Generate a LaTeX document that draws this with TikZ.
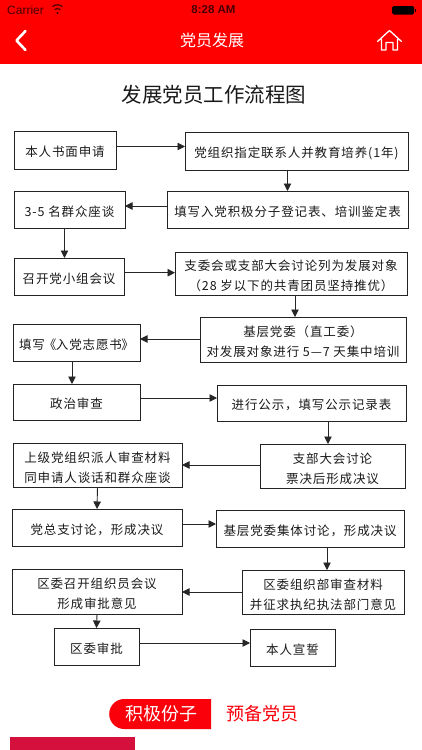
\documentclass[tikz,border=0pt]{standalone}
\usepackage{fontspec}
\setsansfont{Liberation Sans}
\newfontfamily\cjk[LetterSpace=7]{Noto Sans CJK SC}
\newfontfamily\cjkui{Noto Sans CJK SC}
\usetikzlibrary{arrows.meta, positioning, shapes.misc}
\definecolor{cHead}{RGB}{255,0,0}
\definecolor{cPill}{RGB}{250,0,10}
\definecolor{cBar}{RGB}{213,16,60}
\definecolor{cInk}{RGB}{35,35,35}
\definecolor{cStatus}{RGB}{70,0,0}
\tikzset{
  flowbox/.style={rectangle, draw=cInk, line width=1pt, inner sep=0pt, outer sep=0pt,
                  align=center, text=black!90, font=\cjk\fontsize{12.5}{20}\selectfont,
                  execute at begin node={\rule{0pt}{14.5pt}}},
  twolines/.style={flowbox, execute at begin node={\rule{0pt}{36pt}}},
  flowarrow/.style={-{Triangle[length=7.5pt,width=7.5pt]}, line width=0.9pt, color=black!85},
  statustext/.style={inner sep=0pt, text=cStatus, font=\sffamily\fontsize{12}{12}\selectfont},
  headicon/.style={white, line cap=round, line join=round}
}

\begin{document}
\begin{tikzpicture}[x=1pt, y=1pt]
  \useasboundingbox (0,0) rectangle (422,-750);

  % header
  \fill[cHead] (0,0) rectangle (422,-64);
  \node[statustext, anchor=west] (carrier) at (7,-10) {Carrier};
  \node[statustext, font=\sffamily\bfseries\fontsize{11.5}{12}\selectfont] (clock) at (213.5,-10) {8:28 AM};
  \draw[cStatus, line width=1.2pt] (52.5,-6.6) arc (130:50:7.8);
  \draw[cStatus, line width=1.2pt] (54.6,-9.6) arc (130:50:4.5);
  \fill[cStatus] (57.5,-13) circle (1.2);
  \fill[black, rounded corners=1.5pt] (392,-6) rectangle (414,-14.5);
  \fill[black] (414.5,-8.5) rectangle (415.5,-12);
  \draw[headicon, line width=2.6pt] (25.5,-31) -- (16.5,-40.5) -- (25.5,-50);
  \node[text=white, inner sep=0pt, font=\cjkui\fontsize{16}{16}\selectfont] (title) at (212,-40.5) {党员发展};
  \draw[headicon, line width=1.3pt] (377.5,-41.5) -- (389.5,-30.5) -- (401.5,-41.5)
    (381.5,-39.5) -- (381.5,-50) -- (386,-50) -- (386,-42.5) -- (393,-42.5) -- (393,-50) -- (397.5,-50) -- (397.5,-39.5);

  \node[inner sep=0pt, text=black!90, font=\cjkui\fontsize{20.5}{21}\selectfont] (chart) at (214,-95) {发展党员工作流程图};

  % left and right columns, row by row
  \node[flowbox, minimum width=102pt, minimum height=38pt, anchor=north west] (apply) at (14,-131) {本人书面申请};
  \node[flowbox, minimum width=223pt, minimum height=38pt, below right=1pt and 69pt of apply.north east] (train) {党组织指定联系人并教育培养(1年)};

  \node[flowbox, minimum width=111pt, minimum height=37pt, below right=22pt and 0pt of apply.south west] (talk) {3-5 名群众座谈};
  \node[flowbox, minimum width=241pt, minimum height=37pt, below left=21pt and 0pt of train.south east] (form) {填写入党积极分子登记表、培训鉴定表};

  \node[flowbox, minimum width=110pt, minimum height=37pt, below right=30pt and 0pt of talk.south west] (group) {召开党小组会议};
  \node[twolines, minimum width=232pt, minimum height=43pt, below left=24pt and 1pt of form.south east] (branch) {支委会或支部大会讨论列为发展对象\\（28 岁以下的共青团员坚持推优）};

  \node[flowbox, minimum width=127pt, minimum height=37pt, below right=29pt and -1pt of group.south west] (book) {填写\hspace{-1pt}《\hspace{-0.5pt}入党志愿书\hspace{-0.5pt}》};
  \node[twolines, minimum width=206pt, minimum height=45pt, below left=22pt and 1pt of branch.south east] (focus) {基层党委（直工委）\\对发展对象进行 5—7 天集中培训};

  \node[flowbox, minimum width=127pt, minimum height=36pt, below right=23pt and 0pt of book.south west] (review) {政治审查};
  \node[flowbox, minimum width=189pt, minimum height=36pt, below left=23pt and 0pt of focus.south east] (notice) {进行公示，填写公示记录表};

  \node[twolines, minimum width=169pt, minimum height=44pt, below right=23pt and 0pt of review.south west] (visit) {上级党组织派人审查材料\\同申请人谈话和群众座谈};
  \node[twolines, minimum width=145pt, minimum height=44pt, below left=23pt and 1pt of notice.south east] (vote) {支部大会讨论\\票决后形成决议};

  \node[flowbox, minimum width=170pt, minimum height=37pt, below right=22pt and -1pt of visit.south west] (general) {党总支讨论，形成决议};
  \node[flowbox, minimum width=188pt, minimum height=37pt, below left=22pt and 1pt of vote.south east] (collect) {基层党委集体讨论，形成决议};

  \node[twolines, minimum width=170pt, minimum height=45pt, below right=23pt and 0pt of general.south west] (meeting) {区委召开组织员会议\\形成审批意见};
  \node[twolines, minimum width=162pt, minimum height=44pt, below left=23pt and 0pt of collect.south east] (check) {区委组织部审查材料\\并征求执纪执法部门意见};

  \node[flowbox, minimum width=85pt, minimum height=37pt, below right=14pt and 42pt of meeting.south west] (approve) {区委审批};
  \node[flowbox, minimum width=85pt, minimum height=37pt, below right=1pt and 111pt of approve.north east] (oath) {本人宣誓};

  \draw[flowarrow] ([yshift=3.5pt]apply.east) -- ([yshift=4.5pt]train.west);
  \draw[flowarrow] (form.north |- train.south) -- (form.north);
  \draw[flowarrow] ([yshift=3.5pt]form.west) -- ([yshift=3.5pt]form.west -| talk.east);
  \draw[flowarrow] ([xshift=-5pt]talk.south) -- ([xshift=-4.5pt]group.north);
  \draw[flowarrow] ([yshift=3.8pt]group.east) -- ([yshift=0.8pt]branch.west);
  \draw[flowarrow] ([xshift=4pt]branch.south) -- ([xshift=-8pt]focus.north);
  \draw[flowarrow] ([yshift=0.5pt]focus.west) -- ([yshift=3.5pt]book.east);
  \draw[flowarrow] ([xshift=-4.5pt]book.south) -- ([xshift=-4.5pt]review.north);
  \draw[flowarrow] ([yshift=4pt]review.east) -- ([yshift=5pt]notice.west);
  \draw[flowarrow] ([xshift=16.5pt]notice.south) -- ([xshift=-4.5pt]vote.north);
  \draw[flowarrow] ([yshift=1pt]vote.west) -- (visit.east);
  \draw[flowarrow] (visit.south) -- (general.north);
  \draw[flowarrow] ([yshift=3.5pt]general.east) -- ([yshift=4.5pt]collect.west);
  \draw[flowarrow] ([xshift=17pt]collect.south) -- ([xshift=4pt]check.north);
  \draw[flowarrow] (check.west) -- (check.west -| meeting.east);
  \draw[flowarrow] (meeting.south) -- (approve.north);
  \draw[flowarrow] ([yshift=3.5pt]approve.east) -- ([yshift=4.5pt]oath.west);

  % tabs below the chart
  \node[rounded rectangle, rounded rectangle east arc=none, fill=cPill, inner sep=0pt, minimum width=102pt, minimum height=30pt,
        text=white, font=\cjkui\fontsize{18}{18}\selectfont, anchor=west] (active) at (109,-714) {积极份子};
  \node[inner sep=0pt, text=cPill, font=\cjkui\fontsize{18}{18}\selectfont, right=15pt of active] (spare) {预备党员};
  \fill[cBar] (10,-737) rectangle (135,-750);
\end{tikzpicture}
\end{document}
